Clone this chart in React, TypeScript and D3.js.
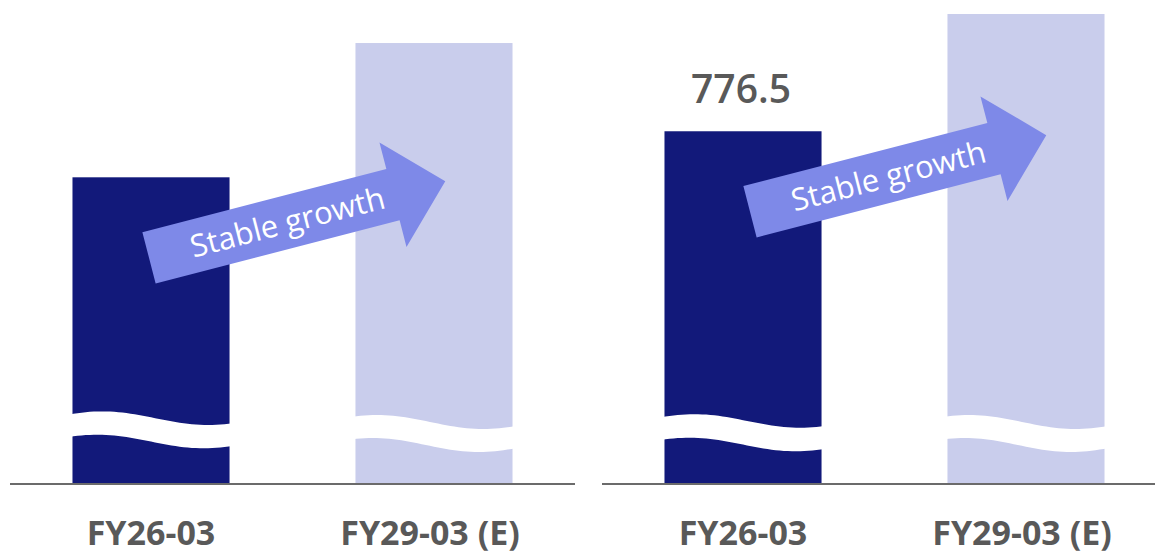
import React from 'react';
import * as d3 from 'd3';

// ---- data ----
const categories = ['FY26-03', 'FY29-03 (E)'];
const leftValues = [675, 971];
const rightValues = [776.5, 1035];
const rightValueLabels = ['776.5', ''];
const leftValueLabels = ['', ''];
const arrowText = 'Stable growth';

// ---- layout ----
const W = 1155;
const H = 556;
const BASE = 483.5;
const DARK = '#12197a';
const LIGHT = '#c9cdec';
const ARROW = '#7e89e8';
const TEXT = '#595959';
const FONT = '"Open Sans", "Noto Sans", sans-serif';

const yScale = d3.scaleLinear().domain([0, 1035]).range([BASE, 14]);

type Wave = { cTop: number; cBot: number; amp: number; peak: number; period: number };
type Panel = {
  values: number[];
  labels: string[];
  range: [number, number];
  lineEnd: number;
  arrowDx: number;
  waves: Wave[];
};

const panels: Panel[] = [
  {
    values: leftValues,
    labels: leftValueLabels,
    range: [10, 575],
    lineEnd: 575,
    arrowDx: -2,
    waves: [
      { cTop: 418.2, cBot: 441.5, amp: 6.8, peak: 0.19, period: 1.35 },
      { cTop: 422, cBot: 445, amp: 7, peak: 0.14, period: 1.35 },
    ],
  },
  {
    values: rightValues,
    labels: rightValueLabels,
    range: [602, 1167],
    lineEnd: W,
    arrowDx: 7,
    waves: [
      { cTop: 421, cBot: 444.5, amp: 6.8, peak: 0.19, period: 1.35 },
      { cTop: 422, cBot: 445, amp: 7, peak: 0.14, period: 1.35 },
    ],
  },
];

function wavePath(x0: number, w: number, p: Wave) {
  const n = 40;
  const fs = d3.range(n + 1).map((i) => -0.02 + (1.04 * i) / n);
  const yAt = (c: number, f: number) => c - p.amp * Math.cos((2 * Math.PI * (f - p.peak)) / p.period);
  const top: [number, number][] = fs.map((f) => [x0 + f * w, yAt(p.cTop, f)]);
  const bot: [number, number][] = fs
    .slice()
    .reverse()
    .map((f) => [x0 + f * w, yAt(p.cBot, f + 0.03)]);
  const line = d3.line<[number, number]>().curve(d3.curveLinear);
  return line([...top, ...bot]) + 'Z';
}

const arrowPts: [number, number][] = [
  [0, -26.5],
  [252, -26.5],
  [252, -54],
  [306, 0],
  [252, 54],
  [252, 26.5],
  [0, 26.5],
];
const arrowD = d3.line<[number, number]>()(arrowPts) + 'Z';

export default function App() {
  return (
    <div style={{ position: 'absolute', left: 0, top: 0 }}>
      <svg width={W} height={H} viewBox={`0 0 ${W} ${H}`} style={{ display: 'block' }}>
        <rect width={W} height={H} fill="#fff" />
        {panels.map((panel, pi) => {
          const x = d3
            .scaleBand<string>()
            .domain(categories)
            .range(panel.range)
            .paddingInner(0.445)
            .paddingOuter(0.2208);
          const bw = x.bandwidth();
          const dark = categories[0];
          const darkTop = yScale(panel.values[0]);
          const ax = (x(dark) as number) + bw / 2 + panel.arrowDx;
          const ay = darkTop + 80.5;
          return (
            <g key={pi}>
              {categories.map((c, i) => {
                const x0 = x(c) as number;
                const top = yScale(panel.values[i]);
                return (
                  <g key={c}>
                    <rect x={x0} y={top} width={bw} height={BASE - top} fill={i === 0 ? DARK : LIGHT} />
                    <path d={wavePath(x0, bw, panel.waves[i])} fill="#fff" />
                    {panel.labels[i] && (
                      <text
                        x={x0 + bw / 2 - 2}
                        y={top - 28}
                        textAnchor="middle"
                        fontFamily={FONT}
                        fontWeight={600}
                        fontSize={39}
                        fill={TEXT}
                      >
                        {panel.labels[i]}
                      </text>
                    )}
                    <text
                      x={x0 + bw / 2 - (i === 1 ? 4 : 0)}
                      y={545}
                      textAnchor="middle"
                      fontFamily={FONT}
                      fontWeight={700}
                      fontSize={34}
                      fill={TEXT}
                    >
                      {c}
                    </text>
                  </g>
                );
              })}
              <line
                x1={panel.range[0]}
                x2={panel.lineEnd}
                y1={484}
                y2={484}
                stroke="#6b6b6b"
                strokeWidth={2}
              />
              <g transform={`translate(${ax},${ay}) rotate(-14.5)`}>
                <path d={arrowD} fill={ARROW} />
                <text
                  x={143}
                  y={11}
                  textAnchor="middle"
                  fontFamily={FONT}
                  fontSize={31}
                  fill="#fff"
                >
                  {arrowText}
                </text>
              </g>
            </g>
          );
        })}
      </svg>
    </div>
  );
}
